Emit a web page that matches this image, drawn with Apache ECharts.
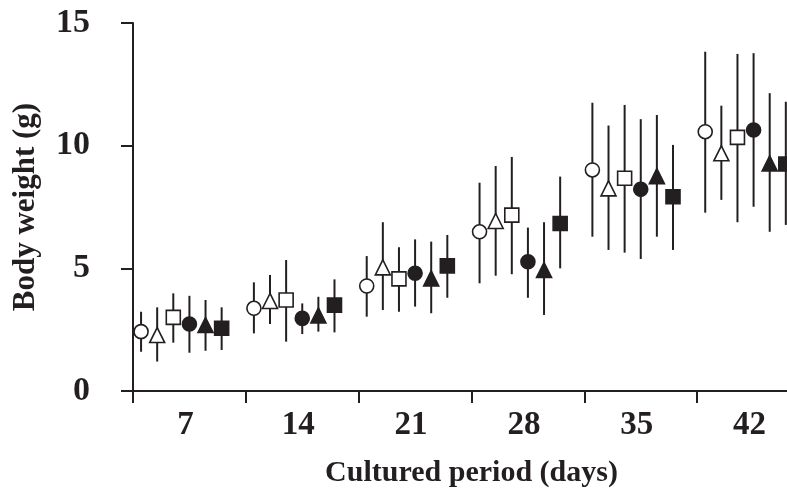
<!DOCTYPE html>
<html>
<head>
<meta charset="utf-8">
<script src="https://cdn.jsdelivr.net/npm/echarts@6/dist/echarts.min.js"></script>
<style>html,body{margin:0;padding:0;background:#fff;}#c{width:787px;height:497px;}</style>
</head>
<body>
<div id="c"></div>
<script>
// Categories (cultured period, days)
var days = [7, 14, 21, 28, 35, 42];
var yTicks = [0, 5, 10, 15];

// Open circle
var ocMean = [2.42, 3.37, 4.28, 6.49, 9.01, 10.57];
var ocLo   = [1.60, 2.35, 3.03, 4.39, 6.29, 7.27];
var ocHi   = [3.23, 4.43, 5.50, 8.49, 11.75, 13.83];
// Open triangle
var otMean = [2.28, 3.67, 5.04, 6.93, 8.26, 9.69];
var otLo   = [1.20, 2.73, 3.30, 4.70, 5.75, 7.79];
var otHi   = [3.41, 4.73, 6.88, 9.17, 10.82, 11.63];
// Open square
var osMean = [3.00, 3.71, 4.57, 7.17, 8.67, 10.34];
var osLo   = [1.97, 2.01, 3.23, 4.76, 5.64, 6.88];
var osHi   = [3.98, 5.34, 5.86, 9.54, 11.66, 13.74];
// Filled circle
var fcMean = [2.73, 2.96, 4.80, 5.27, 8.22, 10.64];
var fcLo   = [1.56, 2.32, 3.44, 3.80, 5.38, 7.51];
var fcHi   = [3.88, 3.57, 6.18, 6.66, 11.08, 13.77];
// Filled triangle
var ftMean = [2.69, 3.08, 4.59, 4.93, 8.76, 9.28];
var ftLo   = [1.64, 2.42, 3.17, 3.10, 6.29, 6.49];
var ftHi   = [3.71, 3.84, 6.09, 6.88, 11.25, 12.14];
// Filled square
var fsMean = [2.56, 3.50, 5.10, 6.83, 7.92, 9.25];
var fsLo   = [1.67, 2.39, 3.80, 5.00, 5.75, 6.77];
var fsHi   = [3.41, 4.55, 6.36, 8.74, 10.03, 11.79];

var INK = '#231f20';
var FONT = '"Liberation Serif", "Times New Roman", serif';

var groups = [
  {mean: ocMean, lo: ocLo, hi: ocHi, symbol: 'circle',   fill: '#fff', size: 14},
  {mean: otMean, lo: otLo, hi: otHi, symbol: 'triangle', fill: '#fff', size: 15},
  {mean: osMean, lo: osLo, hi: osHi, symbol: 'rect',     fill: '#fff', size: 14},
  {mean: fcMean, lo: fcLo, hi: fcHi, symbol: 'circle',   fill: INK,    size: 14},
  {mean: ftMean, lo: ftLo, hi: ftHi, symbol: 'triangle', fill: INK,    size: 15},
  {mean: fsMean, lo: fsLo, hi: fsHi, symbol: 'rect',     fill: INK,    size: 14}
];

// x position (axis units: day - 4), each series offset by 1 within group
function xPos(dayIdx, s) { return days[dayIdx] - 6.5 + s; }

var errData = [];
var series = [];
groups.forEach(function (g, s) {
  var pts = [];
  g.mean.forEach(function (m, i) {
    pts.push([xPos(i, s), m]);
    errData.push([xPos(i, s), g.lo[i], g.hi[i]]);
  });
  series.push({
    type: 'scatter',
    xAxisIndex: 0,
    symbol: g.symbol,
    symbolSize: g.size,
    itemStyle: {color: g.fill, borderColor: INK, borderWidth: 1.6, opacity: 1},
    data: pts,
    z: 5,
    silent: true
  });
});

series.unshift({
  type: 'custom',
  xAxisIndex: 0,
  z: 2,
  silent: true,
  data: errData,
  renderItem: function (params, api) {
    var p1 = api.coord([api.value(0), api.value(1)]);
    var p2 = api.coord([api.value(0), api.value(2)]);
    return {
      type: 'line',
      shape: {x1: p1[0], y1: p1[1], x2: p2[0], y2: p2[1]},
      style: {stroke: INK, lineWidth: 2}
    };
  }
});

// label position within each 7-day band (axis units)
var LABEL_POS = 3.25;

var chart = echarts.init(document.getElementById('c'), null, {renderer: 'canvas'});
chart.setOption({
  animation: false,
  backgroundColor: '#fff',
  grid: {left: 133, width: 677, top: 23, bottom: 106, containLabel: false, outerBoundsMode: 'none'},
  xAxis: [
    {
      type: 'value', min: 0, max: 42, interval: 7,
      axisLine: {show: true, lineStyle: {color: INK, width: 2}},
      axisTick: {show: true, inside: false, length: 12, lineStyle: {color: INK, width: 2}},
      axisLabel: {show: false},
      splitLine: {show: false},
      name: 'Cultured period (days)',
      nameLocation: 'middle',
      nameGap: 67,
      nameTextStyle: {fontFamily: FONT, fontWeight: 'bold', fontSize: 30, color: INK}
    },
    {
      type: 'value', min: 0, max: 42, interval: 0.25,
      position: 'bottom',
      axisLine: {show: false},
      axisTick: {show: false},
      splitLine: {show: false},
      axisLabel: {
        show: true, margin: 18,
        fontFamily: FONT, fontWeight: 'bold', fontSize: 33, color: INK,
        formatter: function (v) {
          var k = Math.round((v - LABEL_POS) / 7);
          if (Math.abs(v - LABEL_POS - k * 7) < 0.01 && k >= 0 && k < days.length) return String(days[k]);
          return '';
        }
      }
    }
  ],
  yAxis: {
    type: 'value', min: 0, max: 15, interval: 5,
    axisLine: {show: true, lineStyle: {color: INK, width: 2}},
    axisTick: {show: true, inside: false, length: 12, lineStyle: {color: INK, width: 2}},
    splitLine: {show: false},
    axisLabel: {
      margin: 43, fontFamily: FONT, fontWeight: 'bold', fontSize: 34, color: INK,
      formatter: function (v) { return yTicks.indexOf(v) >= 0 ? String(v) : ''; }
    },
    name: 'Body weight (g)',
    nameLocation: 'middle',
    nameGap: 92,
    nameTextStyle: {fontFamily: FONT, fontWeight: 'bold', fontSize: 31, color: INK}
  },
  series: series
});
</script>
</body>
</html>
